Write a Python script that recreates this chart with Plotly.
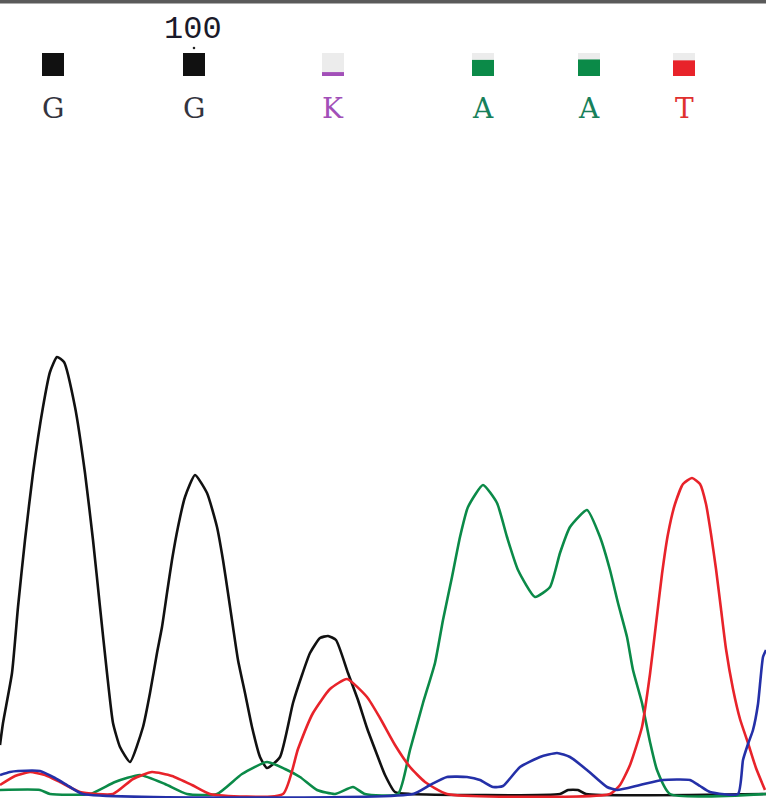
import plotly.graph_objects as go

# ---- data (signal heights, baseline = 0) ----
g_x = [0, 3, 12, 18, 25, 33, 43, 50, 57, 64, 75, 85, 93, 100, 107, 113, 120, 130, 143, 150, 157, 162, 167, 172, 178, 185, 195, 207, 217, 223, 228, 233, 238, 245, 252, 260, 267, 280, 293, 302, 310, 320, 328, 336, 348, 358, 367, 376, 385, 395, 410, 560, 568, 578, 586, 766]
g_y = [49, 71, 121, 187, 254, 321, 387, 422, 437, 432, 387, 321, 254, 187, 121, 71, 47, 32, 67, 101, 141, 167, 201, 234, 267, 297, 319, 301, 267, 234, 201, 167, 134, 101, 67, 37, 26, 37, 91, 119, 141, 156, 158, 154, 121, 94, 66, 42, 19, 2, 0, 0, 4, 4, 0, 0]

a_x = [0, 40, 50, 90, 115, 140, 165, 187, 217, 242, 267, 285, 300, 317, 335, 353, 365, 398, 410, 423, 435, 443, 452, 460, 468, 483, 497, 507, 518, 535, 550, 560, 570, 587, 600, 610, 618, 627, 633, 642, 650, 657, 670, 766]
a_y = [4, 4, 0, 0, 12, 19, 10, 0, 0, 20, 32, 25, 17, 4, 0, 7, 0, 0, 44, 91, 131, 174, 217, 257, 287, 309, 291, 257, 224, 197, 207, 241, 267, 284, 257, 224, 191, 157, 124, 91, 52, 24, 0, 0]

t_x = [0, 15, 30, 45, 60, 80, 113, 133, 152, 172, 192, 210, 283, 298, 313, 330, 347, 367, 380, 395, 410, 425, 447, 610, 620, 630, 642, 650, 656, 662, 668, 675, 683, 692, 700, 706, 711, 716, 721, 726, 733, 740, 748, 756, 765]
t_y = [9, 18, 22, 19, 12, 2, 0, 15, 22, 18, 9, 0, 0, 45, 81, 105, 115, 97, 76, 49, 27, 12, 0, 0, 9, 29, 67, 120, 170, 220, 260, 290, 310, 316, 310, 290, 260, 225, 185, 145, 105, 75, 51, 26, 4]

c_x = [0, 10, 18, 40, 55, 70, 83, 413, 430, 447, 467, 480, 493, 503, 520, 540, 557, 570, 587, 607, 617, 640, 663, 690, 700, 710, 738, 743, 748, 753, 758, 763, 766]
c_y = [19, 22, 23, 23, 16, 7, 0, 0, 9, 17, 17, 14, 7, 8, 27, 37, 41, 37, 24, 7, 4, 9, 14, 14, 8, 2, 0, 34, 50, 64, 90, 137, 144]

base_pos = [53, 194, 333, 483, 589, 684]
base_calls = ["G", "G", "K", "A", "A", "T"]
base_quality = [1.0, 1.0, 0.17, 0.7, 0.72, 0.68]
position_label = "100"
position_index = 1

trace_colors = {"G": "#111111", "A": "#0b8a48", "T": "#e8232a", "C": "#2430a8"}
call_colors = {"G": "#111111", "K": "#a24fb8", "A": "#0b8a48", "T": "#e8232a"}
text_colors = {"G": "#34343e", "K": "#a24fb8", "A": "#17805a", "T": "#e0302e"}

fig = go.Figure()
for xs, ys, key in [(g_x, g_y, "G"), (a_x, a_y, "A"), (t_x, t_y, "T"), (c_x, c_y, "C")]:
    fig.add_trace(go.Scatter(x=xs, y=ys, mode="lines",
                             line=dict(color=trace_colors[key], width=2.6, shape="spline", smoothing=0.5),
                             hoverinfo="skip", showlegend=False))

# base-call quality boxes and letters
box_half = 11
box_bottom = 718
box_top = 741
shapes = []
annotations = []
for p, b, q in zip(base_pos, base_calls, base_quality):
    shapes.append(dict(type="rect", xref="x", yref="y", x0=p - box_half, x1=p + box_half,
                       y0=box_bottom, y1=box_top, fillcolor="#ececec", line=dict(width=0), layer="below"))
    shapes.append(dict(type="rect", xref="x", yref="y", x0=p - box_half, x1=p + box_half,
                       y0=box_bottom, y1=box_bottom + q * (box_top - box_bottom),
                       fillcolor=call_colors[b], line=dict(width=0), layer="below"))
    annotations.append(dict(x=p, y=686, xref="x", yref="y", text=b, showarrow=False,
                            font=dict(family="DejaVu Serif", size=28, color=text_colors[b])))

pp = base_pos[position_index]
annotations.append(dict(x=pp - 1, y=765, xref="x", yref="y", text=position_label, showarrow=False,
                        font=dict(family="Liberation Mono", size=32, color="#1a1a2a")))
shapes.append(dict(type="circle", xref="x", yref="y", x0=pp - 1.3, x1=pp + 1.3, y0=744.7, y1=747.3,
                   fillcolor="#222222", line=dict(width=0)))
# top border bar
shapes.append(dict(type="rect", xref="paper", yref="paper", x0=0, x1=1, y0=0.9955, y1=1.0,
                   fillcolor="#5a5a5a", line=dict(width=0)))

fig.update_layout(
    width=766, height=798,
    margin=dict(l=0, r=0, t=0, b=0),
    paper_bgcolor="white", plot_bgcolor="white",
    xaxis=dict(range=[0, 766], visible=False, fixedrange=True),
    yaxis=dict(range=[-4, 794], visible=False, fixedrange=True),
    shapes=shapes, annotations=annotations,
)
fig.write_html("out.html", config={"displayModeBar": False})

with open("out.html", "r", encoding="utf-8") as f:
    html = f.read()
html = html.replace("<body>", '<body style="margin:0;padding:0;overflow:hidden">', 1)
with open("out.html", "w", encoding="utf-8") as f:
    f.write(html)
